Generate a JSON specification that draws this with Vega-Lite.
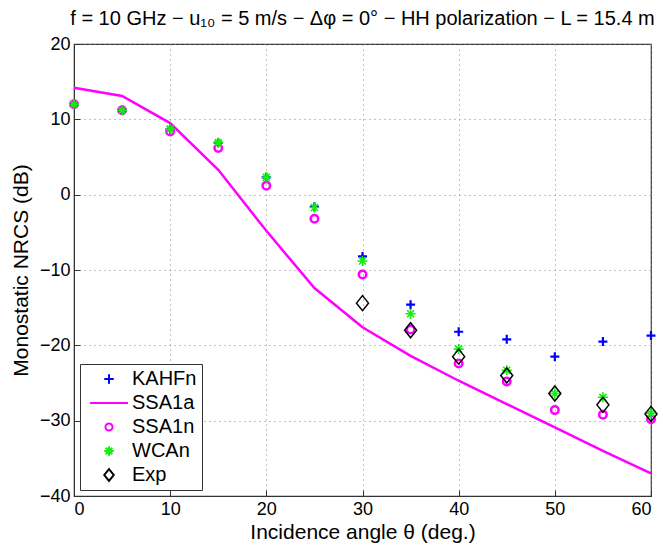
{
  "$schema": "https://vega.github.io/schema/vega-lite/v6.json",
  "width": 577,
  "height": 452,
  "autosize": "none",
  "padding": {"left": 74, "top": 44, "right": 12, "bottom": 54},
  "background": "white",
  "title": {
    "text": "f = 10 GHz − u₁₀ = 5 m/s − Δφ = 0° − HH polarization − L = 15.4 m",
    "font": "Liberation Sans",
    "fontSize": 20,
    "fontWeight": "normal",
    "color": "#000000",
    "anchor": "middle",
    "offset": 6
  },
  "config": {
    "view": {"stroke": "#333333", "strokeWidth": 1.2},
    "axis": {
      "labelFont": "Liberation Sans",
      "labelFontSize": 18,
      "labelColor": "#000000",
      "titleFont": "Liberation Sans",
      "titleFontSize": 21,
      "titleFontWeight": "normal",
      "titleColor": "#000000",
      "domainColor": "#333333",
      "tickColor": "#333333",
      "tickSize": -6,
      "labelPadding": 10,
      "gridColor": "#888888",
      "gridDash": [1, 4],
      "gridWidth": 1,
      "gridOpacity": 1
    },
    "legend": {
      "labelFont": "Liberation Sans",
      "labelFontSize": 20,
      "labelColor": "#000000"
    }
  },
  "data": {
    "values": [
      {"series": "KAHFn", "angle": 0, "nrcs": 12.0},
      {"series": "KAHFn", "angle": 5, "nrcs": 11.2},
      {"series": "KAHFn", "angle": 10, "nrcs": 8.7},
      {"series": "KAHFn", "angle": 15, "nrcs": 6.9},
      {"series": "KAHFn", "angle": 20, "nrcs": 2.3},
      {"series": "KAHFn", "angle": 25, "nrcs": -1.6},
      {"series": "KAHFn", "angle": 30, "nrcs": -8.2},
      {"series": "KAHFn", "angle": 35, "nrcs": -14.6},
      {"series": "KAHFn", "angle": 40, "nrcs": -18.2},
      {"series": "KAHFn", "angle": 45, "nrcs": -19.2},
      {"series": "KAHFn", "angle": 50, "nrcs": -21.5},
      {"series": "KAHFn", "angle": 55, "nrcs": -19.5},
      {"series": "KAHFn", "angle": 60, "nrcs": -18.7},
      {"series": "SSA1a", "angle": 0, "nrcs": 14.2},
      {"series": "SSA1a", "angle": 5, "nrcs": 13.1},
      {"series": "SSA1a", "angle": 10, "nrcs": 9.5},
      {"series": "SSA1a", "angle": 15, "nrcs": 3.3},
      {"series": "SSA1a", "angle": 20, "nrcs": -4.8},
      {"series": "SSA1a", "angle": 25, "nrcs": -12.4},
      {"series": "SSA1a", "angle": 30, "nrcs": -17.6},
      {"series": "SSA1a", "angle": 35, "nrcs": -21.4},
      {"series": "SSA1a", "angle": 40, "nrcs": -24.7},
      {"series": "SSA1a", "angle": 45, "nrcs": -27.8},
      {"series": "SSA1a", "angle": 50, "nrcs": -30.9},
      {"series": "SSA1a", "angle": 55, "nrcs": -34.0},
      {"series": "SSA1a", "angle": 60, "nrcs": -37.0},
      {"series": "SSA1n", "angle": 0, "nrcs": 12.0},
      {"series": "SSA1n", "angle": 5, "nrcs": 11.2},
      {"series": "SSA1n", "angle": 10, "nrcs": 8.4},
      {"series": "SSA1n", "angle": 15, "nrcs": 6.2},
      {"series": "SSA1n", "angle": 20, "nrcs": 1.2},
      {"series": "SSA1n", "angle": 25, "nrcs": -3.2},
      {"series": "SSA1n", "angle": 30, "nrcs": -10.6},
      {"series": "SSA1n", "angle": 35, "nrcs": -17.9},
      {"series": "SSA1n", "angle": 40, "nrcs": -22.4},
      {"series": "SSA1n", "angle": 45, "nrcs": -24.8},
      {"series": "SSA1n", "angle": 50, "nrcs": -28.6},
      {"series": "SSA1n", "angle": 55, "nrcs": -29.2},
      {"series": "SSA1n", "angle": 60, "nrcs": -29.8},
      {"series": "WCAn", "angle": 0, "nrcs": 12.0},
      {"series": "WCAn", "angle": 5, "nrcs": 11.2},
      {"series": "WCAn", "angle": 10, "nrcs": 8.7},
      {"series": "WCAn", "angle": 15, "nrcs": 6.9},
      {"series": "WCAn", "angle": 20, "nrcs": 2.3},
      {"series": "WCAn", "angle": 25, "nrcs": -1.7},
      {"series": "WCAn", "angle": 30, "nrcs": -8.8},
      {"series": "WCAn", "angle": 35, "nrcs": -15.8},
      {"series": "WCAn", "angle": 40, "nrcs": -20.5},
      {"series": "WCAn", "angle": 45, "nrcs": -23.3},
      {"series": "WCAn", "angle": 50, "nrcs": -26.4},
      {"series": "WCAn", "angle": 55, "nrcs": -26.9},
      {"series": "WCAn", "angle": 60, "nrcs": -29.0},
      {"series": "Exp", "angle": 30, "nrcs": -14.4},
      {"series": "Exp", "angle": 35, "nrcs": -18.0},
      {"series": "Exp", "angle": 40, "nrcs": -21.5},
      {"series": "Exp", "angle": 45, "nrcs": -24.0},
      {"series": "Exp", "angle": 50, "nrcs": -26.4},
      {"series": "Exp", "angle": 55, "nrcs": -27.9},
      {"series": "Exp", "angle": 60, "nrcs": -29.1}
    ]
  },
  "encoding": {
    "x": {
      "field": "angle",
      "type": "quantitative",
      "scale": {"domain": [0, 60], "nice": false, "zero": false},
      "axis": {"values": [0, 10, 20, 30, 40, 50, 60], "title": "Incidence angle θ (deg.)", "titlePadding": 3}
    },
    "y": {
      "field": "nrcs",
      "type": "quantitative",
      "scale": {"domain": [-40, 20], "nice": false, "zero": false},
      "axis": {"values": [-40, -30, -20, -10, 0, 10, 20], "title": "Monostatic NRCS (dB)", "titlePadding": 8}
    },
    "color": {
      "field": "series",
      "type": "nominal",
      "scale": {
        "domain": ["KAHFn", "SSA1a", "SSA1n", "WCAn", "Exp"],
        "range": ["#0000ff", "#ff00ff", "#ff00ff", "#11ee11", "#000000"]
      },
      "legend": {
        "title": null,
        "orient": "bottom-left",
        "offset": 6,
        "strokeColor": "#333333",
        "fillColor": "white",
        "padding": 5,
        "rowPadding": 4,
        "symbolSize": 90,
        "symbolStrokeWidth": 2,
        "symbolOffset": 14,
        "symbolFillColor": "transparent",
        "labelOffset": 13,
        "encode": {"symbols": {"update": {"fill": {"value": "transparent"}, "fillOpacity": {"value": 0}}}}
      }
    },
    "shape": {
      "field": "series",
      "type": "nominal",
      "scale": {
        "domain": ["KAHFn", "SSA1a", "SSA1n", "WCAn", "Exp"],
        "range": [
          "M-1,0L1,0M0,-1L0,1",
          "M-4,0L4,0",
          "M0,-0.75A0.75,0.75,0,1,1,0,0.75A0.75,0.75,0,1,1,0,-0.75Z",
          "M-1,0L1,0M0,-1L0,1M-0.7,-0.7L0.7,0.7M-0.7,0.7L0.7,-0.7",
          "M0,-1.25L1,0L0,1.25L-1,0Z"
        ]
      },
      "legend": {
        "title": null,
        "orient": "bottom-left",
        "offset": 6,
        "strokeColor": "#333333",
        "fillColor": "white",
        "padding": 5,
        "rowPadding": 4,
        "symbolSize": 90,
        "symbolStrokeWidth": 2,
        "symbolOffset": 14,
        "symbolFillColor": "transparent",
        "labelOffset": 13,
        "encode": {"symbols": {"update": {"fill": {"value": "transparent"}, "fillOpacity": {"value": 0}}}}
      }
    }
  },
  "layer": [
    {
      "transform": [{"filter": "datum.series === 'KAHFn'"}],
      "mark": {"type": "point", "filled": false, "size": 81, "strokeWidth": 2.2, "opacity": 1}
    },
    {
      "transform": [{"filter": "datum.series === 'SSA1a'"}],
      "mark": {"type": "line", "strokeWidth": 2.5, "color": "#ff00ff"}
    },
    {
      "transform": [{"filter": "datum.series === 'SSA1n'"}],
      "mark": {"type": "point", "filled": false, "size": 100, "strokeWidth": 2.5, "opacity": 1}
    },
    {
      "transform": [{"filter": "datum.series === 'WCAn'"}],
      "mark": {"type": "point", "filled": false, "size": 100, "strokeWidth": 1.6, "opacity": 1}
    },
    {
      "transform": [{"filter": "datum.series === 'Exp'"}],
      "mark": {"type": "point", "filled": false, "size": 144, "strokeWidth": 1.5, "opacity": 1}
    }
  ]
}
